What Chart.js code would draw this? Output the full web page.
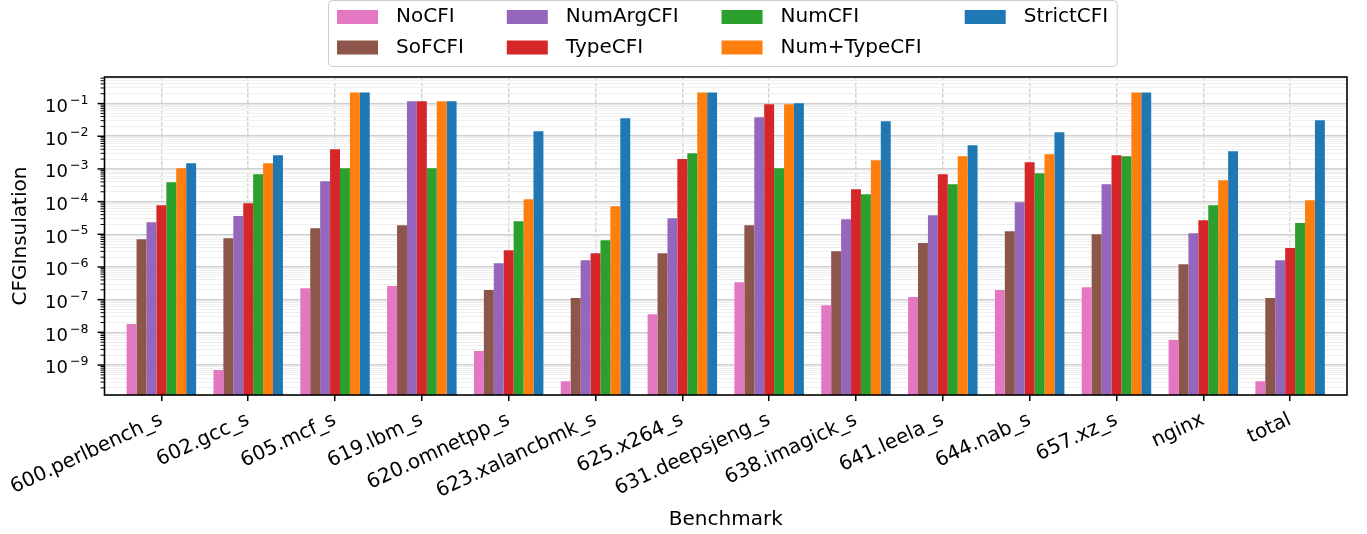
<!DOCTYPE html>
<html><head><meta charset="utf-8">
<script src="https://cdn.jsdelivr.net/npm/chart.js@4/dist/chart.umd.min.js"></script>
<style>html,body{margin:0;padding:0;background:#fff;}#wrap{position:relative;width:1367px;height:534px;}</style>
</head><body><div id="wrap"><canvas id="c" width="1367" height="534"></canvas></div>
<script>
const categories = ['600.perlbench_s','602.gcc_s','605.mcf_s','619.lbm_s','620.omnetpp_s','623.xalancbmk_s','625.x264_s','631.deepsjeng_s','638.imagick_s','641.leela_s','644.nab_s','657.xz_s','nginx','total'];
const seriesNames = ['NoCFI','SoFCFI','NumArgCFI','TypeCFI','NumCFI','Num+TypeCFI','StrictCFI'];
const seriesColors = ['#e377c2','#8c564b','#9467bd','#d62728','#2ca02c','#ff7f0e','#1f77b4'];
const noCFI      = [1.8e-8, 7.0e-10, 2.25e-7, 2.6e-7, 2.7e-9, 3.2e-10, 3.6e-8, 3.4e-7, 6.8e-8, 1.2e-7, 1.96e-7, 2.4e-7, 5.8e-9, 3.2e-10];
const soFCFI     = [7.1e-6, 7.6e-6, 1.54e-5, 1.9e-5, 1.96e-7, 1.12e-7, 2.65e-6, 1.9e-5, 3.05e-6, 5.4e-6, 1.25e-5, 1.01e-5, 1.22e-6, 1.12e-7];
const numArgCFI  = [2.35e-5, 3.6e-5, 4.2e-4, 0.117, 1.31e-6, 1.62e-6, 3.1e-5, 0.038, 2.9e-5, 3.85e-5, 9.6e-5, 3.4e-4, 1.08e-5, 1.62e-6];
const typeCFI    = [7.8e-5, 8.9e-5, 4.0e-3, 0.117, 3.27e-6, 2.65e-6, 2.0e-3, 0.095, 2.4e-4, 6.9e-4, 1.6e-3, 2.6e-3, 2.7e-5, 3.8e-6];
const numCFI     = [3.9e-4, 6.9e-4, 1.05e-3, 1.05e-3, 2.5e-5, 6.6e-6, 3.0e-3, 1.05e-3, 1.69e-4, 3.4e-4, 7.4e-4, 2.45e-3, 7.8e-5, 2.2e-5];
const numTypeCFI = [1.05e-3, 1.5e-3, 0.22, 0.117, 1.19e-4, 7.2e-5, 0.22, 0.095, 1.85e-3, 2.45e-3, 2.8e-3, 0.22, 4.5e-4, 1.11e-4];
const strictCFI  = [1.5e-3, 2.6e-3, 0.22, 0.117, 0.0142, 0.0356, 0.22, 0.102, 0.0288, 5.3e-3, 0.0133, 0.22, 3.5e-3, 0.031];
const seriesValues = [noCFI, soFCFI, numArgCFI, typeCFI, numCFI, numTypeCFI, strictCFI];
const yTickValues = [1e-1, 1e-2, 1e-3, 1e-4, 1e-5, 1e-6, 1e-7, 1e-8, 1e-9];
const yTickBase = '10';
const yTickExponents = ['\u22121','\u22122','\u22123','\u22124','\u22125','\u22126','\u22127','\u22128','\u22129'];
const yMin = 1.21e-10, yMax = 0.65;

const FONT = 'DejaVu Sans';
Chart.defaults.font.family = FONT;
Chart.defaults.color = '#000';

function isMajorVal(v){ const l = Math.log10(v); return Math.abs(l - Math.round(l)) < 1e-6; }

const framePlugin = {
  id: 'frame',
  afterDatasetsDraw(chart){
    const {ctx, chartArea: a} = chart; const y = chart.scales.y;
    ctx.save(); ctx.strokeStyle = '#000';
    y.ticks.forEach(t => {
      const py = y.getPixelForValue(t.value); const mj = isMajorVal(t.value);
      ctx.lineWidth = mj ? 1.5 : 1;
      ctx.beginPath(); ctx.moveTo(a.left, py); ctx.lineTo(a.left - (mj ? 7 : 4), py); ctx.stroke();
    });
    ctx.lineWidth = 1.6;
    ctx.strokeRect(a.left, a.top, a.right - a.left, a.bottom - a.top);
    ctx.fillStyle = '#000'; ctx.textBaseline = 'alphabetic'; ctx.textAlign = 'left';
    const baseFont = '18px "' + FONT + '"', expFont = '12.6px "' + FONT + '"';
    const rightX = a.left - 16;
    yTickValues.forEach((v, i) => {
      const py = y.getPixelForValue(v);
      ctx.font = expFont; const ew = ctx.measureText(yTickExponents[i]).width;
      ctx.font = baseFont; const bw = ctx.measureText(yTickBase).width;
      const ex = rightX - ew, bxp = ex - 2 - bw;
      ctx.fillText(yTickBase, bxp, py + 8.4);
      ctx.font = expFont; ctx.fillText(yTickExponents[i], ex, py + 0.2);
    });
    ctx.restore();
  }
};

const legendPlugin = {
  id: 'colLegend',
  afterDraw(chart){
    const ctx = chart.ctx; const ds = chart.data.datasets;
    const nRows = 2, nCols = Math.ceil(ds.length / nRows);
    ctx.save();
    ctx.font = '20px "' + FONT + '"';
    const x0 = 337, swW = 41, swH = 14, textGap = 18, colGap = 43, rowY = [17, 47.5];
    let x = x0; const colX = []; let lastEnd = x0;
    for (let c = 0; c < nCols; c++) {
      const items = ds.slice(c*nRows, c*nRows + nRows);
      const w = Math.max(...items.map(d => ctx.measureText(d.label).width));
      colX.push(x); lastEnd = x + swW + textGap + w; x = lastEnd + colGap;
    }
    const bx = 328.5, by = 0.5, bw = lastEnd + 9 - bx, bh = 66, r = 4;
    ctx.beginPath();
    ctx.moveTo(bx + r, by); ctx.lineTo(bx + bw - r, by); ctx.quadraticCurveTo(bx + bw, by, bx + bw, by + r);
    ctx.lineTo(bx + bw, by + bh - r); ctx.quadraticCurveTo(bx + bw, by + bh, bx + bw - r, by + bh);
    ctx.lineTo(bx + r, by + bh); ctx.quadraticCurveTo(bx, by + bh, bx, by + bh - r);
    ctx.lineTo(bx, by + r); ctx.quadraticCurveTo(bx, by, bx + r, by); ctx.closePath();
    ctx.fillStyle = 'rgba(255,255,255,0.8)'; ctx.fill();
    ctx.strokeStyle = '#cccccc'; ctx.lineWidth = 1; ctx.stroke();
    ds.forEach((d, i) => {
      const c = Math.floor(i / nRows), rr = i % nRows;
      const sx = colX[c], cy = rowY[rr];
      ctx.fillStyle = d.backgroundColor; ctx.fillRect(sx, cy - swH/2, swW, swH);
      ctx.fillStyle = '#000'; ctx.textAlign = 'left'; ctx.textBaseline = 'middle';
      ctx.fillText(d.label, sx + swW + textGap, cy);
    });
    ctx.restore();
  }
};

const datasets = seriesNames.map((n, i) => ({
  label: n, data: seriesValues[i], backgroundColor: seriesColors[i], borderWidth: 0,
  categoryPercentage: 0.8, barPercentage: 1.0
}));

new Chart(document.getElementById('c'), {
  type: 'bar',
  data: { labels: categories, datasets },
  plugins: [framePlugin, legendPlugin],
  options: {
    responsive: false, animation: false, devicePixelRatio: 1,
    layout: { padding: { left: 0, right: 20, top: 77, bottom: 0 } },
    plugins: { legend: { display: false }, tooltip: { enabled: false } },
    scales: {
      x: {
        type: 'category', offset: true,
        afterBuildTicks: (axis) => { axis._startValue = -0.655; axis._valueRange = 13 + 2*0.655; },
        afterFit: (axis) => { axis.height = 139; },
        grid: { offset: false, color: '#d4d4d4', lineWidth: 1.5, drawTicks: true, tickLength: 6, tickColor: '#000', tickWidth: 1.5, tickBorderDash: [] },
        border: { display: false, dash: [4, 1.6] },
        ticks: { autoSkip: false, minRotation: 25, maxRotation: 25, font: { size: 20 }, padding: 7 },
        title: { display: true, text: 'Benchmark', font: { size: 20 }, padding: { top: 0, bottom: 2 } }
      },
      y: {
        type: 'logarithmic', min: yMin, max: yMax, bounds: 'data',
        afterBuildTicks: (axis) => {
          const t = [];
          for (let e = -11; e <= 0; e++) for (let m = 1; m <= 9; m++) {
            const v = m * Math.pow(10, e);
            if (v >= axis.min && v <= axis.max) t.push({ value: v, major: m === 1 });
          }
          axis.ticks = t;
        },
        afterFit: (axis) => { axis.width = 104; },
        grid: {
          drawTicks: false,
          color: (c) => (c.tick && isMajorVal(c.tick.value)) ? '#cfcfcf' : '#efefef',
          lineWidth: (c) => (c.tick && isMajorVal(c.tick.value)) ? 1.5 : 1
        },
        border: { display: false },
        ticks: { display: false, autoSkip: false },
        title: { display: true, text: 'CFGInsulation', font: { size: 20 }, padding: { top: 8, bottom: 0 } }
      }
    }
  }
});
</script></body></html>
